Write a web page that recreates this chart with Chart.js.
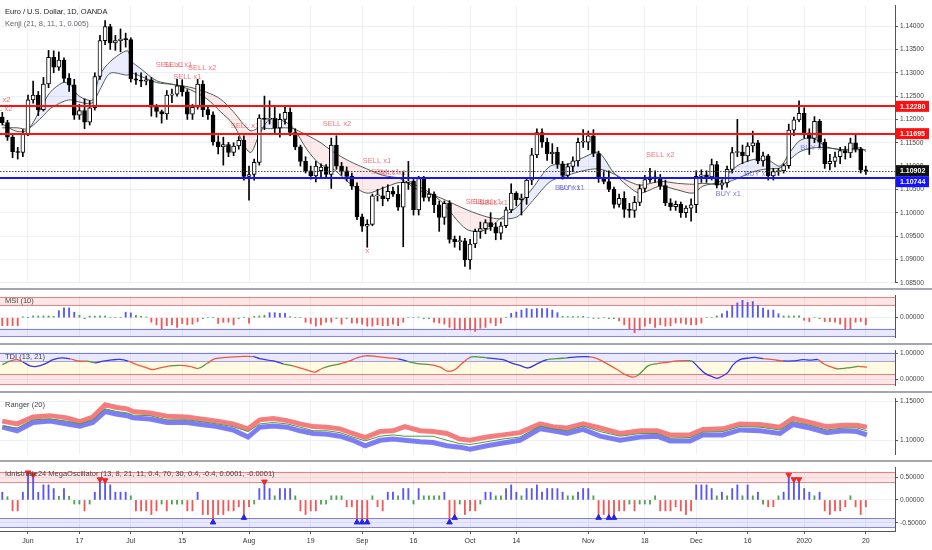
<!DOCTYPE html>
<html>
<head>
<meta charset="utf-8">
<script src="https://cdn.jsdelivr.net/npm/chart.js@4.4.1/dist/chart.umd.min.js"></script>
<style>
  html, body { margin: 0; padding: 0; background: #fff; }
  #wrap { position: relative; width: 932px; height: 550px; overflow: hidden; background: #fff; }
  .pane { position: absolute; left: 0; width: 932px; }
  .sep { position: absolute; left: 0; width: 932px; height: 2px; background: #a4a7ae; }
</style>
</head>
<body>
<div id="wrap">
  <div class="pane" style="top:0;height:288px"><canvas id="cMain"></canvas></div>
  <div class="sep" style="top:288px"></div>
  <div class="pane" style="top:290px;height:53px"><canvas id="cMsi"></canvas></div>
  <div class="sep" style="top:343px"></div>
  <div class="pane" style="top:345px;height:46px"><canvas id="cTdi"></canvas></div>
  <div class="sep" style="top:391px"></div>
  <div class="pane" style="top:393px;height:67px"><canvas id="cRng"></canvas></div>
  <div class="sep" style="top:460px"></div>
  <div class="pane" style="top:462px;height:88px"><canvas id="cMega"></canvas></div>
</div>
<script>
// daily bars, 27 May 2019 .. 20 Jan 2020 (index = bar number)
const xTickIdx = [5, 15, 25, 35, 48, 60, 70, 80, 91, 100, 114, 125, 135, 145, 156, 168];
const xTickLabels = ["Jun", "17", "Jul", "15", "Aug", "19", "Sep", "16", "Oct", "14", "Nov", "18", "Dec", "16", "2020", "20"];

const open = [1.1205,1.1193,1.1162,1.1131,1.1129,1.1169,1.1242,1.1252,1.1221,1.1276,
  1.1333,1.1312,1.1327,1.1288,1.1274,1.1209,1.1219,1.1194,1.1225,1.1292,
  1.1369,1.1399,1.1364,1.1369,1.1372,1.1371,1.1287,1.1284,1.1282,1.1285,
  1.1226,1.1217,1.1212,1.1252,1.1254,1.1272,1.1259,1.1211,1.1226,1.1276,
  1.1221,1.1210,1.1152,1.1141,1.1146,1.1129,1.1143,1.1155,1.1078,1.1082,
  1.1108,1.1203,1.1200,1.1202,1.1182,1.1200,1.1215,1.1172,1.1141,1.1110,
  1.1090,1.1079,1.1090,1.1098,1.1082,1.1145,1.1100,1.1090,1.1078,1.1057,
  1.0991,1.0971,1.0975,1.1036,1.1036,1.1030,1.1046,1.1040,1.1012,1.1065,
  1.1068,1.1006,1.1073,1.1033,1.1040,1.1017,1.0990,1.1020,1.0943,1.0938,
  1.0940,1.0899,1.0933,1.0960,1.0966,1.0979,1.0970,1.0956,1.0972,1.1006,
  1.1042,1.1028,1.1032,1.1070,1.1124,1.1172,1.1151,1.1126,1.1130,1.1105,
  1.1080,1.1099,1.1111,1.1151,1.1151,1.1165,1.1127,1.1075,1.1067,1.1050,
  1.1018,1.1031,1.1007,1.1005,1.1022,1.1052,1.1071,1.1077,1.1075,1.1058,
  1.1021,1.1013,1.1018,1.1000,1.1010,1.1017,1.1078,1.1081,1.1077,1.1103,
  1.1059,1.1064,1.1093,1.1129,1.1130,1.1122,1.1143,1.1150,1.1111,1.1122,
  1.1079,1.1088,1.1090,1.1101,1.1177,1.1199,1.1213,1.1171,1.1159,1.1196,
  1.1151,1.1105,1.1110,1.1120,1.1133,1.1128,1.1150,1.1136,1.1091];
const high = [1.1215,1.1198,1.1166,1.1140,1.1178,1.1252,1.1282,1.1260,1.1290,1.1348,
  1.1347,1.1345,1.1332,1.1298,1.1286,1.1232,1.1244,1.1240,1.1300,1.1380,
  1.1412,1.1404,1.1380,1.1394,1.1385,1.1375,1.1300,1.1300,1.1293,1.1290,
  1.1232,1.1220,1.1262,1.1265,1.1286,1.1285,1.1264,1.1232,1.1286,1.1283,
  1.1226,1.1216,1.1165,1.1162,1.1151,1.1150,1.1163,1.1165,1.1100,1.1115,
  1.1210,1.1250,1.1240,1.1230,1.1212,1.1230,1.1225,1.1180,1.1145,1.1120,
  1.1100,1.1110,1.1105,1.1103,1.1160,1.1165,1.1108,1.1098,1.1085,1.1064,
  1.0997,1.0985,1.1040,1.1050,1.1055,1.1060,1.1055,1.1058,1.1087,1.1110,
  1.1075,1.1078,1.1078,1.1052,1.1045,1.1025,1.1025,1.1026,1.0950,1.0950,
  1.0945,1.0943,1.0965,1.0980,1.0985,1.1000,1.0978,1.0980,1.1012,1.1062,
  1.1045,1.1040,1.1075,1.1138,1.1180,1.1180,1.1160,1.1148,1.1140,1.1110,
  1.1105,1.1120,1.1160,1.1178,1.1175,1.1178,1.1132,1.1090,1.1090,1.1055,
  1.1040,1.1045,1.1020,1.1035,1.1060,1.1080,1.1095,1.1090,1.1082,1.1070,
  1.1030,1.1025,1.1023,1.1015,1.1030,1.1090,1.1092,1.1090,1.1115,1.1110,
  1.1070,1.1100,1.1140,1.1200,1.1145,1.1150,1.1175,1.1155,1.1130,1.1125,
  1.1095,1.1095,1.1105,1.1190,1.1205,1.1240,1.1225,1.1180,1.1206,1.1200,
  1.1158,1.1125,1.1130,1.1140,1.1142,1.1160,1.1170,1.1140,1.1100];
const low = [1.1188,1.1155,1.1118,1.1115,1.1120,1.1165,1.1235,1.1208,1.1218,1.1268,
  1.1300,1.1305,1.1280,1.1260,1.1200,1.1200,1.1180,1.1188,1.1220,1.1286,
  1.1360,1.1350,1.1348,1.1345,1.1355,1.1280,1.1275,1.1270,1.1274,1.1207,
  1.1205,1.1192,1.1200,1.1236,1.1250,1.1250,1.1200,1.1200,1.1222,1.1206,
  1.1200,1.1145,1.1126,1.1102,1.1120,1.1122,1.1136,1.1070,1.1027,1.1070,
  1.1102,1.1178,1.1190,1.1170,1.1162,1.1190,1.1165,1.1135,1.1100,1.1085,
  1.1072,1.1066,1.1075,1.1075,1.1052,1.1093,1.1080,1.1068,1.1050,1.0985,
  1.0960,1.0926,1.0972,1.1025,1.1015,1.1025,1.1035,1.1005,1.0927,1.1050,
  1.0995,1.0995,1.1025,1.1025,1.1000,1.0960,1.0975,1.0935,1.0926,1.0920,
  1.0885,1.0879,1.0925,1.0945,1.0955,1.0962,1.0942,1.0943,1.0968,1.1000,
  1.1015,1.0995,1.1018,1.1060,1.1118,1.1140,1.1112,1.1105,1.1095,1.1072,
  1.1073,1.1088,1.1100,1.1140,1.1135,1.1120,1.1065,1.1062,1.1045,1.1010,
  1.1012,1.0990,1.0990,1.0990,1.1015,1.1045,1.1065,1.1065,1.1050,1.1015,
  1.1005,1.1005,1.0990,1.0990,1.0982,1.1000,1.1065,1.1065,1.1070,1.1053,
  1.1050,1.1055,1.1085,1.1120,1.1105,1.1110,1.1130,1.1105,1.1100,1.1070,
  1.1070,1.1080,1.1085,1.1095,1.1165,1.1195,1.1160,1.1125,1.1150,1.1140,
  1.1095,1.1092,1.1098,1.1105,1.1115,1.1118,1.1130,1.1085,1.1082];
const close = [1.1193,1.1162,1.1131,1.1129,1.1169,1.1242,1.1252,1.1221,1.1276,1.1333,
  1.1312,1.1327,1.1288,1.1274,1.1209,1.1219,1.1194,1.1225,1.1292,1.1369,
  1.1399,1.1364,1.1369,1.1372,1.1371,1.1287,1.1284,1.1282,1.1285,1.1226,
  1.1217,1.1212,1.1252,1.1254,1.1272,1.1259,1.1211,1.1226,1.1276,1.1221,
  1.1210,1.1152,1.1141,1.1146,1.1129,1.1143,1.1155,1.1078,1.1082,1.1108,
  1.1203,1.1200,1.1202,1.1182,1.1200,1.1215,1.1172,1.1141,1.1110,1.1090,
  1.1079,1.1100,1.1098,1.1082,1.1145,1.1100,1.1090,1.1078,1.1057,1.0991,
  1.0971,1.0975,1.1036,1.1036,1.1030,1.1046,1.1040,1.1012,1.1065,1.1068,
  1.1006,1.1073,1.1033,1.1040,1.1017,1.0990,1.1020,1.0943,1.0938,1.0940,
  1.0899,1.0933,1.0960,1.0966,1.0979,1.0970,1.0956,1.0972,1.1006,1.1042,
  1.1028,1.1032,1.1070,1.1124,1.1172,1.1151,1.1126,1.1130,1.1105,1.1080,
  1.1099,1.1111,1.1151,1.1151,1.1165,1.1127,1.1075,1.1067,1.1050,1.1018,
  1.1031,1.1007,1.1005,1.1022,1.1052,1.1071,1.1077,1.1075,1.1058,1.1021,
  1.1013,1.1018,1.1000,1.1010,1.1017,1.1078,1.1081,1.1077,1.1103,1.1059,
  1.1064,1.1093,1.1129,1.1130,1.1122,1.1143,1.1150,1.1111,1.1122,1.1079,
  1.1088,1.1090,1.1101,1.1177,1.1199,1.1213,1.1171,1.1159,1.1196,1.1151,
  1.1105,1.1110,1.1120,1.1133,1.1128,1.1150,1.1136,1.1091,1.1090];

// Kenji fast / slow lines, sampled along the bars
const kenjiX = [0,2.9,5,7.9,9.3,11.8,13.2,14.7,16.5,17.6,19,21,24.3,25.2,26.8,30,33.2,36.5,39.8,42.4,
  44.9,48.2,50.1,52.1,54.6,56.6,59.3,61.8,64.3,67.6,70.9,74.1,77.4,80.7,85.2,90.4,94.3,96.8,100.1,103.2,
  106.6,109.9,113,116,118.8,121.5,124.1,128,131.3,134.4,136.3,139.6,142.9,146.1,148.8,151.3,153.2,155.2,157.7,160.4,
  163.6,166.9,168];
const kenjiFast = [1.1190,1.1174,1.1178,1.1232,1.1258,1.1279,1.1275,1.1252,1.1242,1.1242,1.1295,1.1324,1.1347,1.1324,1.1310,1.1283,1.1275,1.1264,1.1244,1.1217,
  1.1190,1.1129,1.1170,1.1201,1.1197,1.1182,1.1135,1.1104,1.1094,1.1063,1.1042,1.1053,1.1065,1.1058,1.1026,1.0964,1.0964,1.0987,1.1012,1.1053,
  1.1100,1.1104,1.1118,1.1129,1.1088,1.1059,1.1042,1.1057,1.1049,1.1042,1.1057,1.1067,1.1100,1.1114,1.1114,1.1100,1.1129,1.1155,1.1160,1.1141,
  1.1135,1.1139,1.1131];
const kenjiSlow = [1.1182,1.1182,1.1180,1.1207,1.1223,1.1238,1.1242,1.1238,1.1234,1.1236,1.1264,1.1299,1.1295,1.1299,1.1293,1.1279,1.1275,1.1269,1.1258,1.1244,
  1.1217,1.1176,1.1182,1.1180,1.1182,1.1180,1.1166,1.1151,1.1131,1.1110,1.1094,1.1080,1.1073,1.1050,1.1032,1.1006,1.0991,1.0987,1.0991,1.1026,
  1.1067,1.1080,1.1090,1.1094,1.1084,1.1069,1.1059,1.1067,1.1063,1.1061,1.1063,1.1061,1.1073,1.1088,1.1094,1.1096,1.1114,1.1131,1.1139,1.1139,
  1.1135,1.1135,1.1135];

const resistance = [1.12280, 1.11695];
const support = [1.10744];
const lastPrice = 1.10902;

// [bar, price, text, kind]
const signals = [
  [-1.2, 1.1242, "SELL x2", "s"], [-0.8, 1.1223, "SELL x2", "s"],
  [32.6, 1.1316, "SELL x1", "s"], [34.2, 1.1316, "SELL x1", "s"], [38.9, 1.1310, "SELL x2", "s"],
  [36, 1.1291, "SELL x1", "s"], [47.2, 1.1186, "SELL x1", "s"], [65.1, 1.1190, "SELL x2", "s"],
  [72.9, 1.1110, "SELL x1", "s"], [74.5, 1.1088, "SELL x1", "s"], [75.8, 1.1086, "SELL x1", "s"],
  [92.9, 1.1024, "SELL x1", "s"], [94.3, 1.1024, "SELL x1", "s"], [95.6, 1.1022, "SELL x1", "s"],
  [128, 1.1123, "SELL x2", "s"], [71, 1.0919, "x", "s"],
  [110, 1.1053, "BUY x1", "b"], [110.8, 1.1053, "BUY x1", "b"], [141.2, 1.1041, "BUY x1", "b"],
  [146.8, 1.1084, "BUY x1", "b"], [157.7, 1.1139, "BUY x1", "b"]
];

const msi = [-0.37,-0.37,-0.37,-0.37,0.04,0,0.08,0.08,0.08,0.08,
  0.06,0.32,0.45,0.45,0.25,0.11,-0.05,0.07,0.07,0.08,
  0.08,0,0,0,0.25,0.22,0.11,0.06,0.03,-0.21,
  -0.33,-0.51,-0.37,-0.33,-0.45,-0.27,-0.33,-0.30,-0.18,-0.05,
  0,0,-0.27,-0.21,-0.21,-0.33,-0.05,0,-0.25,0.06,
  0.08,0.11,0.23,0.23,0.20,0.20,0.05,0,0,-0.21,
  -0.27,-0.39,-0.33,-0.21,-0.21,-0.05,-0.30,-0.05,-0.25,-0.25,
  -0.30,-0.39,-0.39,-0.33,-0.37,-0.37,-0.30,-0.37,-0.21,0,
  0,0.03,-0.05,-0.05,-0.21,-0.25,-0.30,-0.45,-0.55,-0.55,
  -0.57,-0.57,-0.63,-0.49,-0.45,-0.25,-0.37,-0.25,0,0.20,
  0.26,0.35,0.42,0.38,0.42,0.42,0.42,0.35,0.23,0.06,
  0.05,0.05,0.05,0.06,0,-0.04,-0.04,0,-0.05,-0.05,
  -0.15,-0.33,-0.51,-0.69,-0.57,-0.39,-0.27,-0.45,-0.33,-0.39,
  -0.37,-0.25,-0.25,-0.30,-0.33,-0.33,-0.25,0,0,0.08,
  0.18,0.30,0.56,0.68,0.80,0.70,0.74,0.56,0.44,0.35,
  0.35,0.18,0.08,0.08,0.08,0.08,-0.12,-0.18,0,-0.05,
  -0.18,-0.18,-0.21,-0.30,-0.51,-0.51,-0.21,-0.18,-0.33];

const tdiX = [0,1.5,2.9,4,5.4,6.7,8.3,9.9,11.6,13.2,14.8,16.5,18,19.6,21.3,22.9,24.5,26.2,27.8,29.1,
  30.7,32.6,34.6,36.5,38.1,39.8,41.4,43.7,46.2,48.8,50.1,52.7,54.6,56.6,58.3,59.5,60.8,62.2,63.8,65.7,
  67.6,69,70.6,72.9,75,77,78.7,80.7,83.2,85.2,86.7,88.1,89.4,91,92.4,94.3,96.2,97.4,99.4,100.7,
  102.3,104,106,107.9,109.9,111.8,114.3,115.7,117.6,119.6,121.1,122.5,123.5,124.5,125.6,127.4,129.3,131.3,133.2,134.2,
  135.4,136.7,138.3,139.1,140.2,141.2,142.2,143.5,145.5,146.4,148,150,151.9,153.8,155.8,157.1,158.7,159.7,161,162.4,
  164.3,165.5,166.5,168.2];
const tdiVal = [0.56,0.69,0.75,0.66,0.51,0.49,0.59,0.75,0.82,0.78,0.70,0.69,0.63,0.69,0.74,0.76,0.69,0.56,0.46,0.37,
  0.43,0.51,0.53,0.49,0.41,0.60,0.79,0.84,0.87,0.87,0.79,0.70,0.59,0.51,0.41,0.34,0.27,0.41,0.51,0.59,
  0.70,0.82,0.90,0.87,0.82,0.78,0.69,0.60,0.56,0.46,0.30,0.37,0.60,0.84,0.86,0.82,0.78,0.75,0.60,0.53,
  0.43,0.59,0.75,0.79,0.82,0.86,0.86,0.79,0.60,0.37,0.18,0.08,0.13,0.30,0.51,0.60,0.65,0.70,0.71,0.69,
  0.46,0.22,0.08,0.03,0.13,0.27,0.56,0.75,0.82,0.84,0.79,0.75,0.70,0.70,0.75,0.73,0.75,0.60,0.49,0.40,
  0.43,0.46,0.49,0.46];
// trend state of each segment: b = strong, r = falling/weak, g = neutral
const tdiTrend = "grrbbbbbbr" + "rgbbbbrrrr" + "rgrrgrrrrb" + "bbgrrrrggr" + "rrrrrbggrr" +
  "rrrggbbbbb" + "bbggbbrrrr" + "rrgggrrrgb" + "bbbbbbbbbb" + "rrbbbbrrrg" + "ggrr";

const rangerX = [0,2.9,6,9.3,12.6,15.1,17.6,20,22.3,24.3,25.4,28.7,32,35.9,37.9,41.8,44.9,47.8,50.1,52.7,
  55.4,57.9,60.5,63.2,65.7,68.2,70.6,73.5,76,78.3,81.3,83.8,86.5,89,91,94.3,97.4,100.7,104.6,107.1,
  109.9,113,116.3,120.2,124.1,127.4,129.9,133.8,136.3,140.2,143.5,147.4,151.3,153.8,157.1,160.4,163.6,166.3,168.2];
const rangerUp = [1.1245,1.1209,1.1298,1.1316,1.1287,1.1238,1.1298,1.1457,1.1422,1.1404,1.1369,1.1351,1.1309,1.1298,1.1280,1.1245,1.1209,1.1145,1.1262,1.1280,
  1.1252,1.1209,1.1174,1.1167,1.1145,1.1085,1.1032,1.1110,1.1120,1.1174,1.1120,1.1110,1.1085,1.1014,1.0997,1.1039,1.1067,1.1096,1.1209,1.1174,
  1.1156,1.1209,1.1156,1.1085,1.1120,1.1120,1.1067,1.1067,1.1138,1.1145,1.1209,1.1202,1.1167,1.1280,1.1227,1.1174,1.1191,1.1191,1.1167];
const rangerMid = [1.1181,1.1156,1.1262,1.1273,1.1245,1.1209,1.1262,1.1404,1.1369,1.1351,1.1322,1.1316,1.1262,1.1262,1.1245,1.1209,1.1174,1.1110,1.1209,1.1227,
  1.1209,1.1167,1.1120,1.1120,1.1096,1.1039,1.0989,1.1050,1.1067,1.1050,1.1050,1.1050,1.0997,1.0954,1.0943,1.0979,1.1014,1.1039,1.1181,1.1145,
  1.1120,1.1181,1.1110,1.1050,1.1085,1.1085,1.1025,1.1032,1.1103,1.1110,1.1174,1.1167,1.1131,1.1238,1.1191,1.1131,1.1156,1.1156,1.1120];
const rangerLow = [1.1167,1.1120,1.1227,1.1245,1.1209,1.1181,1.1227,1.1369,1.1333,1.1316,1.1287,1.1273,1.1227,1.1227,1.1209,1.1174,1.1131,1.1039,1.1167,1.1181,
  1.1167,1.1120,1.1085,1.1074,1.1050,1.0997,1.0926,1.0997,1.1014,1.0997,1.0979,1.0968,1.0926,1.0908,1.0883,1.0926,1.0961,1.0997,1.1145,1.1120,
  1.1085,1.1138,1.1050,1.0997,1.1039,1.1050,1.0989,1.0989,1.1067,1.1067,1.1131,1.1120,1.1085,1.1202,1.1156,1.1096,1.1120,1.1110,1.1067];

const mega = [0.17,0.07,-0.24,-0.24,0.17,0.60,0.55,0.17,0.33,0.33,
  0.25,0.08,0.25,0.08,-0.09,-0.09,-0.24,-0.09,0.17,0.45,
  0.43,0.33,0.17,0.17,0.17,0.09,-0.24,-0.24,-0.24,-0.32,
  -0.24,-0.09,-0.24,-0.09,-0.09,-0.09,-0.24,-0.24,0.17,-0.32,
  -0.32,-0.49,-0.32,-0.32,-0.24,-0.24,-0.15,-0.39,-0.15,-0.09,
  0.25,0.40,0.25,0.09,0.25,0.25,0.25,0.09,-0.24,-0.32,
  -0.24,-0.24,-0.09,-0.09,0.09,0.09,0.09,-0.15,-0.15,-0.49,
  -0.49,-0.49,0.09,-0.15,-0.24,0.17,0.17,0.09,0.25,0.25,
  -0.09,0.25,0.09,0.09,0.09,0.09,0.17,-0.49,-0.39,-0.09,
  -0.32,-0.24,-0.24,-0.09,0.17,0.17,0.09,0.09,0.25,0.33,
  0.17,0.09,0.25,0.25,0.33,0.17,0.25,0.25,0.25,0.17,
  0.09,0.09,0.17,0.25,0.25,0.09,-0.39,-0.32,-0.39,-0.39,
  -0.24,-0.24,-0.09,-0.24,-0.09,-0.09,-0.09,0.09,-0.24,-0.24,
  -0.24,-0.15,-0.24,-0.32,-0.24,0.33,0.33,0.33,0.25,0.09,
  0.17,0.09,0.25,0.33,0.09,0.33,0.09,0.17,-0.09,-0.15,
  -0.15,0.09,0.17,0.55,0.45,0.45,0.25,0.17,0.09,0.17,
  -0.24,-0.32,-0.24,-0.24,-0.15,0.09,-0.15,-0.32,-0.15];
const megaSell = [5, 6, 19, 20, 51, 153, 154, 155];
const megaBuy = [41, 47, 69, 70, 71, 87, 88, 116, 118, 119];

const mainTicks = [1.085, 1.09, 1.095, 1.10, 1.105, 1.11, 1.115, 1.12, 1.125, 1.13, 1.135, 1.14];

// ---------------------------------------------------------------------------
const FONT = '"Liberation Sans", Arial, sans-serif';
const GRID = "#edf0f5";
const X_MIN = -0.447, X_MAX = 173.67;

function xScale(showLabels) {
  return {
    type: "linear", min: X_MIN, max: X_MAX, offset: false,
    afterBuildTicks: s => { s.ticks = xTickIdx.map(v => ({ value: v })); },
    afterFit: s => { s.height = showLabels ? 19 : 0; },
    grid: { color: GRID, offset: false, drawTicks: showLabels, tickLength: 3, tickColor: "#555" },
    border: { display: showLabels, color: "#555" },
    ticks: {
      display: showLabels, autoSkip: false, maxRotation: 0, padding: 3,
      font: { family: FONT, size: 7 }, color: "#333",
      callback: (v, i) => xTickLabels[i]
    }
  };
}

function yScale(min, max, tickVals) {
  return {
    position: "right", min, max,
    afterBuildTicks: s => { s.ticks = tickVals.map(v => ({ value: v })); },
    afterFit: s => { s.width = 37; },
    grid: { color: GRID, tickLength: 3, tickColor: "#555" },
    border: { color: "#555" },
    ticks: { padding: 2, font: { family: FONT, size: 6.6 }, color: "#444", callback: v => v.toFixed(5) }
  };
}

function baseOptions(yMin, yMax, yTicks, showX) {
  return {
    responsive: true, maintainAspectRatio: false, animation: false,
    layout: { padding: 0, autoPadding: false },
    plugins: { legend: { display: false }, tooltip: { enabled: false } },
    elements: { point: { radius: 0 }, line: { fill: false } },
    scales: { x: xScale(showX), y: yScale(yMin, yMax, yTicks) }
  };
}

function titlePlugin(lines) {
  return {
    id: "title",
    afterDraw(chart) {
      const ctx = chart.ctx;
      ctx.save();
      ctx.textBaseline = "middle";
      lines.forEach(l => {
        ctx.font = l.font;
        ctx.fillStyle = l.color;
        ctx.fillText(l.text, l.x, l.y);
      });
      ctx.restore();
    }
  };
}

function bandsPlugin(bands) {
  return {
    id: "bands",
    beforeDatasetsDraw(chart) {
      const { ctx, chartArea: a, scales: { y } } = chart;
      ctx.save();
      bands.forEach(b => {
        const y1 = y.getPixelForValue(b.to), y2 = y.getPixelForValue(b.from);
        ctx.fillStyle = b.fill;
        ctx.fillRect(a.left, y1, a.right - a.left, y2 - y1);
        ctx.strokeStyle = b.line;
        ctx.lineWidth = 1;
        b.edges.forEach(v => {
          const py = Math.round(y.getPixelForValue(v)) + 0.5;
          ctx.beginPath(); ctx.moveTo(a.left, py); ctx.lineTo(a.right, py); ctx.stroke();
        });
      });
      ctx.restore();
    }
  };
}

function oscColor(v, hi, lo) {
  if (v >= hi) return "rgba(70,70,240,0.9)";
  if (v <= lo) return "rgba(240,70,70,0.9)";
  return "rgba(60,150,60,0.9)";
}

// ---------------------------------------------------------------------------
// main price pane
const signalPlugin = {
  id: "signals",
  beforeDatasetsDraw(chart) {
    const { ctx, scales: { x, y } } = chart;
    ctx.save();
    ctx.font = "7.5px " + FONT;
    ctx.textAlign = "center";
    ctx.textBaseline = "middle";
    signals.forEach(([i, p, text, kind]) => {
      ctx.fillStyle = kind === "s" ? "rgba(240,80,90,0.8)" : "rgba(90,90,225,0.8)";
      ctx.fillText(text, x.getPixelForValue(i), y.getPixelForValue(p));
    });
    ctx.restore();
  }
};

const levelPlugin = {
  id: "levels",
  afterDatasetsDraw(chart) {
    const { ctx, chartArea: a, scales: { y } } = chart;
    const hline = (v, color, w, dash) => {
      const py = Math.round(y.getPixelForValue(v)) + (w === 1 ? 0.5 : 0);
      ctx.strokeStyle = color; ctx.lineWidth = w; ctx.setLineDash(dash || []);
      ctx.beginPath(); ctx.moveTo(a.left, py); ctx.lineTo(a.right, py); ctx.stroke();
    };
    ctx.save();
    hline(lastPrice, "#444", 1, [1.5, 1.5]);
    resistance.forEach(v => hline(v, "#ff1010", 2));
    support.forEach(v => hline(v, "#1414ff", 2));
    ctx.restore();
  },
  afterDraw(chart) {
    const { ctx, chartArea: a, scales: { y } } = chart;
    const boxes = resistance.map(v => ({ v, bg: "#ff1010" }))
      .concat([{ v: lastPrice, bg: "#111" }], support.map(v => ({ v, bg: "#1414ff" })))
      .map(b => ({ ...b, cy: y.getPixelForValue(b.v) }))
      .sort((p, q) => p.cy - q.cy);
    ctx.save();
    ctx.font = "bold 7px " + FONT;
    ctx.textBaseline = "middle";
    let prevBottom = -100;
    boxes.forEach(b => {
      let top = b.cy - 5.5;
      if (top < prevBottom) top = prevBottom;
      ctx.fillStyle = b.bg;
      ctx.fillRect(a.right + 1, top, 33, 11);
      ctx.fillStyle = "#fff";
      ctx.fillText(b.v.toFixed(5), a.right + 5, top + 5.8);
      prevBottom = top + 11;
    });
    ctx.restore();
  }
};

const mainOpts = baseOptions(1.08514, 1.14432, mainTicks, false);
new Chart(document.getElementById("cMain"), {
  type: "bar",
  data: {
    datasets: [
      {
        data: close.map((c, i) => ({ x: i, y: [low[i], high[i]] })),
        backgroundColor: "#000", barThickness: 1, grouped: false, order: 2
      },
      {
        data: close.map((c, i) => ({ x: i, y: [open[i], c] })),
        backgroundColor: ctx => (close[ctx.dataIndex] >= open[ctx.dataIndex] ? "#ffffff" : "#000000"),
        borderColor: "#000", borderWidth: 1, borderSkipped: false,
        barThickness: 4, minBarLength: 1, grouped: false, order: 1
      },
      {
        type: "line", data: kenjiX.map((x, k) => ({ x, y: kenjiFast[k] })),
        borderColor: "#4a5a4a", borderWidth: 1, pointRadius: 0, tension: 0.3, order: 3,
        fill: { target: "+1", above: "rgba(130,140,250,0.16)", below: "rgba(245,130,130,0.16)" }
      },
      {
        type: "line", data: kenjiX.map((x, k) => ({ x, y: kenjiSlow[k] })),
        borderColor: "#4a5a4a", borderWidth: 1, pointRadius: 0, tension: 0.3, order: 3, fill: false
      }
    ]
  },
  options: mainOpts,
  plugins: [signalPlugin, levelPlugin, titlePlugin([
    { text: "Euro / U.S. Dollar, 1D, OANDA", x: 5, y: 12, font: "7.5px " + FONT, color: "#222" },
    { text: "Kenji (21, 8, 11, 1, 0.005)", x: 5, y: 24, font: "7.5px " + FONT, color: "#666" }
  ])]
});

// MSI pane
new Chart(document.getElementById("cMsi"), {
  type: "bar",
  data: {
    datasets: [{
      data: msi.map((v, i) => ({ x: i, y: v })),
      backgroundColor: ctx => oscColor(msi[ctx.dataIndex], 0.15, -0.1),
      barThickness: 1.2, grouped: false
    }]
  },
  options: baseOptions(-0.893, 1.0, [0], false),
  plugins: [
    bandsPlugin([
      { from: 0.57, to: 0.94, fill: "rgba(255,90,90,0.15)", line: "rgba(240,80,80,0.7)", edges: [0.57, 0.94] },
      { from: -0.86, to: -0.5, fill: "rgba(100,100,255,0.15)", line: "rgba(80,80,240,0.7)", edges: [-0.5, -0.86] }
    ]),
    titlePlugin([{ text: "MSI (10)", x: 5, y: 11, font: "7.5px " + FONT, color: "#444" }])
  ]
});

// TDI pane
const TDI_COLORS = { b: "#3838e0", r: "#ee5a3c", g: "#4f9a40" };
new Chart(document.getElementById("cTdi"), {
  type: "line",
  data: {
    datasets: [{
      data: tdiX.map((x, k) => ({ x, y: tdiVal[k] })),
      borderWidth: 1.3, tension: 0.35, pointRadius: 0,
      borderColor: TDI_COLORS.r,
      segment: { borderColor: ctx => TDI_COLORS[tdiTrend[ctx.p0DataIndex]] || TDI_COLORS.r }
    }]
  },
  options: baseOptions(-0.229, 1.086, [0, 1], false),
  plugins: [
    bandsPlugin([
      { from: 0.69, to: 1.03, fill: "rgba(110,110,255,0.15)", line: "rgba(80,80,240,0.7)", edges: [0.69, 1.0] },
      { from: 0.2, to: 0.69, fill: "rgba(255,240,170,0.35)", line: "rgba(0,0,0,0)", edges: [] },
      { from: -0.22, to: 0.2, fill: "rgba(255,90,90,0.15)", line: "rgba(240,80,80,0.7)", edges: [0.2, -0.2] }
    ]),
    titlePlugin([{ text: "TDI (13, 21)", x: 5, y: 12, font: "7.5px " + FONT, color: "#444" }])
  ]
});

// Ranger pane: each band is drawn as a narrow bundle of thin lines
function bundle(vals, edge, inner) {
  const pts = rangerX.map((x, k) => ({ x, y: vals[k] }));
  return [
    { data: pts, borderColor: edge, borderWidth: 5, pointRadius: 0 },
    { data: pts, borderColor: inner, borderWidth: 3.4, pointRadius: 0 },
    { data: pts, borderColor: edge, borderWidth: 0.8, pointRadius: 0 }
  ];
}
new Chart(document.getElementById("cRng"), {
  type: "line",
  data: {
    datasets: [
      { data: rangerX.map((x, k) => ({ x, y: rangerMid[k] })), borderColor: "#4f9a40", borderWidth: 1, pointRadius: 0 },
      ...bundle(rangerUp, "rgba(240,90,90,0.75)", "rgba(255,228,228,1)"),
      ...bundle(rangerLow, "rgba(90,90,240,0.75)", "rgba(228,228,255,1)")
    ]
  },
  options: baseOptions(1.0819, 1.1532, [1.10, 1.15], false),
  plugins: [titlePlugin([{ text: "Ranger (20)", x: 5, y: 12, font: "7.5px " + FONT, color: "#444" }])]
});

// MegaOscillator pane with date axis
new Chart(document.getElementById("cMega"), {
  type: "bar",
  data: {
    datasets: [
      {
        data: mega.map((v, i) => ({ x: i, y: v })),
        backgroundColor: ctx => oscColor(mega[ctx.dataIndex], 0.15, -0.12),
        barThickness: 1.2, grouped: false, order: 2
      },
      {
        type: "line", showLine: false, order: 1,
        data: megaSell.map(i => ({ x: i, y: mega[i] })),
        pointStyle: "triangle", rotation: 180, pointRadius: 3.2,
        pointBackgroundColor: "#f02828", pointBorderColor: "#f02828"
      },
      {
        type: "line", showLine: false, order: 1,
        data: megaBuy.map(i => ({ x: i, y: mega[i] })),
        pointStyle: "triangle", pointRadius: 3.2,
        pointBackgroundColor: "#2424e8", pointBorderColor: "#2424e8"
      }
    ]
  },
  options: baseOptions(-0.68, 0.70, [-0.5, 0, 0.5], true),
  plugins: [
    bandsPlugin([
      { from: 0.40, to: 0.62, fill: "rgba(255,90,90,0.15)", line: "rgba(240,80,80,0.7)", edges: [0.40, 0.62] },
      { from: -0.60, to: -0.40, fill: "rgba(100,100,255,0.15)", line: "rgba(80,80,240,0.7)", edges: [-0.40, -0.60] }
    ]),
    titlePlugin([{ text: "Idnistrade24 MegaOscillator (13, 8, 21, 11, 0.4, 70, 30, 0.4, -0.4, 0.0001, -0.0001)",
      x: 5, y: 12, font: "7.5px " + FONT, color: "#444" }])
  ]
});
</script>
</body>
</html>
